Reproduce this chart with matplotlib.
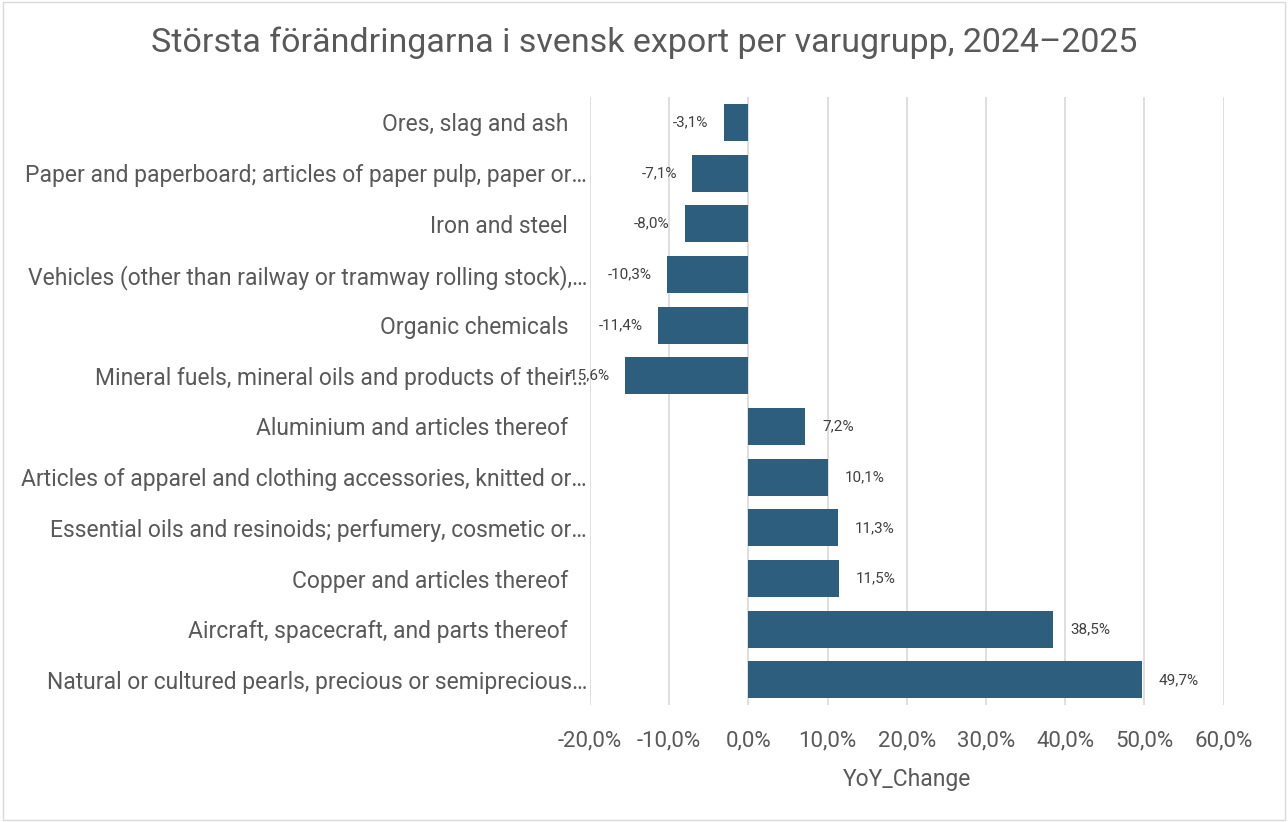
import matplotlib.pyplot as plt
from matplotlib.patches import Rectangle
from matplotlib.transforms import ScaledTranslation

# categories top -> bottom
categories = [
    "Ores, slag and ash",
    "Paper and paperboard; articles of paper pulp, paper or…",
    "Iron and steel",
    "Vehicles (other than railway or tramway rolling stock),…",
    "Organic chemicals",
    "Mineral fuels, mineral oils and products of their…",
    "Aluminium and articles thereof",
    "Articles of apparel and clothing accessories, knitted or…",
    "Essential oils and resinoids; perfumery, cosmetic or…",
    "Copper and articles thereof",
    "Aircraft, spacecraft, and parts thereof",
    "Natural or cultured pearls, precious or semiprecious…",
]
yoy_change = [-3.1, -7.1, -8.0, -10.3, -11.4, -15.6, 7.2, 10.1, 11.3, 11.5, 38.5, 49.7]
xticks = [-20, -10, 0, 10, 20, 30, 40, 50, 60]

plt.rcParams['font.family'] = ['Roboto', 'DejaVu Sans']
grey = '#595959'
bar_col = '#2E5E7E'

fig = plt.figure(figsize=(12.88, 8.22), dpi=100)
ax = fig.add_axes([0.458, 0.142, 0.492, 0.740])

ypos = list(range(len(categories)))
ax.barh(ypos, yoy_change, height=0.73, color=bar_col, zorder=3)
ax.set_ylim(len(categories) - 0.5, -0.5)
ax.set_xlim(-20, 60)

for y, v in zip(ypos, yoy_change):
    lbl = f"{v:.1f}%".replace('.', ',')
    if v >= 0:
        ax.annotate(lbl, (v, y), xytext=(12, 0), textcoords='offset points',
                    ha='left', va='center', fontsize=11, color='#404040')
    else:
        ax.annotate(lbl, (v, y), xytext=(-11, 0), textcoords='offset points',
                    ha='right', va='center', fontsize=11, color='#404040')

ax.set_xticks(xticks)
ax.set_xticklabels([f"{t},0%" for t in xticks], fontsize=16, color=grey)
ax.set_yticks(ypos)
ax.set_yticklabels(categories, fontsize=16.5, color=grey)
ax.tick_params(axis='both', length=0)
ax.tick_params(axis='x', pad=18)
ax.tick_params(axis='y', pad=2)
# shorter (non-truncated) labels sit a bit further from the axis, like in Excel
for t in ax.get_yticklabels():
    if not t.get_text().endswith('…'):
        t.set_transform(t.get_transform() + ScaledTranslation(-0.19, 0, fig.dpi_scale_trans))
ax.grid(axis='x', color='#D9D9D9', linewidth=1.2, zorder=0)
for s in ax.spines.values():
    s.set_visible(False)
ax.set_xlabel("YoY_Change", fontsize=16.5, color=grey, labelpad=12)

fig.suptitle("Största förändringarna i svensk export per varugrupp, 2024–2025",
             fontsize=24.5, color=grey, y=0.968)

fig.patches.append(Rectangle((0.002, 0.002), 0.996, 0.996, transform=fig.transFigure,
                             fill=False, edgecolor='#D9D9D9', linewidth=1))

fig.savefig("out.png", dpi=100)
